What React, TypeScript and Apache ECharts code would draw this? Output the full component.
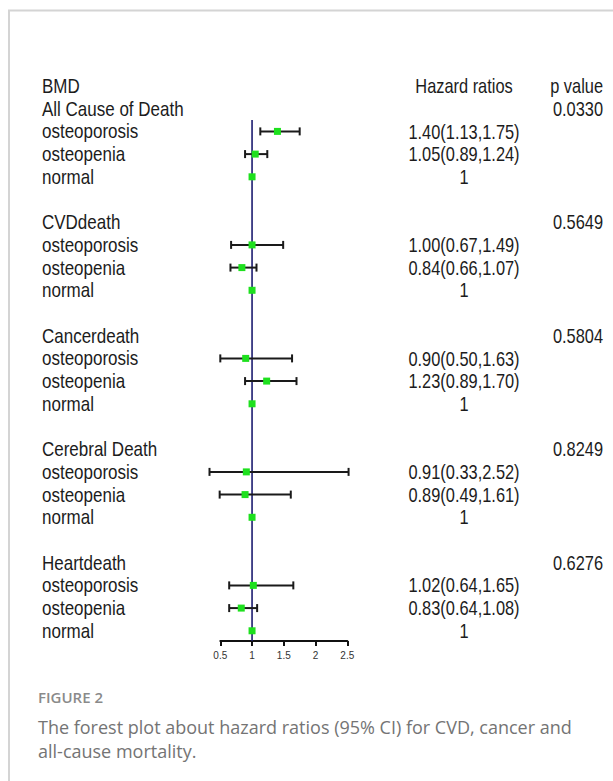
import React, { useEffect, useRef } from "react";
import * as echarts from "echarts";

const groups = ["All Cause of Death", "CVDdeath", "Cancerdeath", "Cerebral Death", "Heartdeath"];
const levels = ["osteoporosis", "osteopenia", "normal"];
const hrValues = [
  [1.40, 1.05, 1],
  [1.00, 0.84, 1],
  [0.90, 1.23, 1],
  [0.91, 0.89, 1],
  [1.02, 0.83, 1],
];
const lowerCI = [
  [1.13, 0.89, 1],
  [0.67, 0.66, 1],
  [0.50, 0.89, 1],
  [0.33, 0.49, 1],
  [0.64, 0.64, 1],
];
const upperCI = [
  [1.75, 1.24, 1],
  [1.49, 1.07, 1],
  [1.63, 1.70, 1],
  [2.52, 1.61, 1],
  [1.65, 1.08, 1],
];
const pValues = ["0.0330", "0.5649", "0.5804", "0.8249", "0.6276"];

const FONT = '"Liberation Sans", Arial, sans-serif';

export default function App() {
  const ref = useRef<HTMLDivElement>(null);
  useEffect(() => {
    if (!ref.current) return;
    const chart = echarts.init(ref.current, null, { renderer: "svg" });

    // rows: 0 header, group g header at 1+5g, levels at 2+5g+k
    const forestData: number[][] = [];
    const leftRows: [number, string][] = [[0, "BMD"]];
    const hrRows: [number, string][] = [[0, "Hazard ratios"]];
    const pRows: [number, string][] = [[0, "p value"]];
    groups.forEach((g, gi) => {
      const base = 1 + gi * 5;
      leftRows.push([base, g]);
      pRows.push([base, pValues[gi]]);
      levels.forEach((lv, k) => {
        const row = base + 1 + k;
        leftRows.push([row, lv]);
        const v = hrValues[gi][k];
        const lo = lowerCI[gi][k];
        const hi = upperCI[gi][k];
        forestData.push([row, v, lo, hi]);
        hrRows.push([
          row,
          lo === hi ? String(v) : `${v.toFixed(2)}(${lo.toFixed(2)},${hi.toFixed(2)})`,
        ]);
      });
    });

    const textSeries = (name: string, rows: [number, string][], px: number, align: string, sx: number) => ({
      type: "custom",
      name,
      silent: true,
      clip: false,
      data: rows.map((r) => [r[0], r[1]]),
      renderItem: (params: any, api: any) => {
        const row = api.value(0);
        const label = rows[params.dataIndex][1];
        const y = api.coord([1, row])[1];
        return {
          type: "text",
          x: px,
          y,
          scaleX: sx,
          style: {
            text: label,
            fill: "#1c1c1c",
            font: `20px ${FONT}`,
            align,
            verticalAlign: "middle",
          },
        };
      },
    });

    const option: any = {
      animation: false,
      backgroundColor: "#ffffff",
      grid: { left: 220.3, width: 127, top: 86, height: 555 },
      xAxis: {
        type: "value",
        position: "bottom",
        min: 0.5,
        max: 2.5,
        interval: 0.5,
        axisLine: { show: true, onZero: false, lineStyle: { color: "#111", width: 2 } },
        axisTick: { show: true, length: 5, lineStyle: { color: "#111", width: 2 } },
        axisLabel: {
          fontSize: 10,
          color: "#333",
          margin: 9,
          fontFamily: FONT,
          formatter: (v: number) => String(v),
        },
        splitLine: { show: false },
      },
      yAxis: {
        type: "value",
        inverse: true,
        min: 0,
        max: 24.45,
        show: false,
        splitLine: { show: false },
      },
      series: [
        {
          type: "line",
          silent: true,
          symbol: "none",
          data: [
            [1, 1.5],
            [1, 24.45],
          ],
          lineStyle: { color: "#1c1c70", width: 1.6 },
          z: 1,
        },
        {
          type: "custom",
          silent: true,
          clip: false,
          z: 3,
          data: forestData,
          renderItem: (params: any, api: any) => {
            const row = api.value(0);
            const v = api.value(1);
            const lo = api.value(2);
            const hi = api.value(3);
            const c = api.coord([v, row]);
            const l = api.coord([lo, row]);
            const h = api.coord([hi, row]);
            const children: any[] = [];
            if (hi > lo) {
              const ls = { stroke: "#1a1a1a", lineWidth: 2 };
              children.push({ type: "line", shape: { x1: l[0], y1: l[1], x2: h[0], y2: h[1] }, style: ls });
              children.push({ type: "line", shape: { x1: l[0], y1: l[1] - 4, x2: l[0], y2: l[1] + 4 }, style: ls });
              children.push({ type: "line", shape: { x1: h[0], y1: h[1] - 4, x2: h[0], y2: h[1] + 4 }, style: ls });
            }
            children.push({
              type: "rect",
              shape: { x: c[0] - 3.5, y: c[1] - 3.5, width: 7, height: 7 },
              style: { fill: "#1ee01e" },
            });
            return { type: "group", children };
          },
        },
        textSeries("left", leftRows, 42, "left", 0.85),
        textSeries("hr", hrRows, 464, "center", 0.82),
        textSeries("p", pRows, 603, "right", 0.82),
      ],
      graphic: [
        { type: "line", shape: { x1: 8, y1: 10.5, x2: 613, y2: 10.5 }, style: { stroke: "#d4d4d4", lineWidth: 2 } },
        { type: "line", shape: { x1: 9, y1: 10, x2: 9, y2: 781 }, style: { stroke: "#d4d4d4", lineWidth: 2 } },
        {
          type: "text",
          x: 38,
          y: 697,
          style: { text: "FIGURE 2", font: '600 15px "Open Sans", sans-serif', fill: "#8a8a8a", verticalAlign: "middle" },
        },
        {
          type: "text",
          x: 38,
          y: 727,
          style: {
            text: "The forest plot about hazard ratios (95% CI) for CVD, cancer and",
            font: '18px "Open Sans", sans-serif',
            fill: "#747474",
            verticalAlign: "middle",
          },
        },
        {
          type: "text",
          x: 38,
          y: 751,
          style: {
            text: "all-cause mortality.",
            font: '18px "Open Sans", sans-serif',
            fill: "#747474",
            verticalAlign: "middle",
          },
        },
      ],
    };
    chart.setOption(option);
    return () => chart.dispose();
  }, []);
  return (
    <div
      ref={ref}
      style={{ position: "absolute", left: 0, top: 0, width: 613, height: 781, background: "#fff" }}
    />
  );
}
